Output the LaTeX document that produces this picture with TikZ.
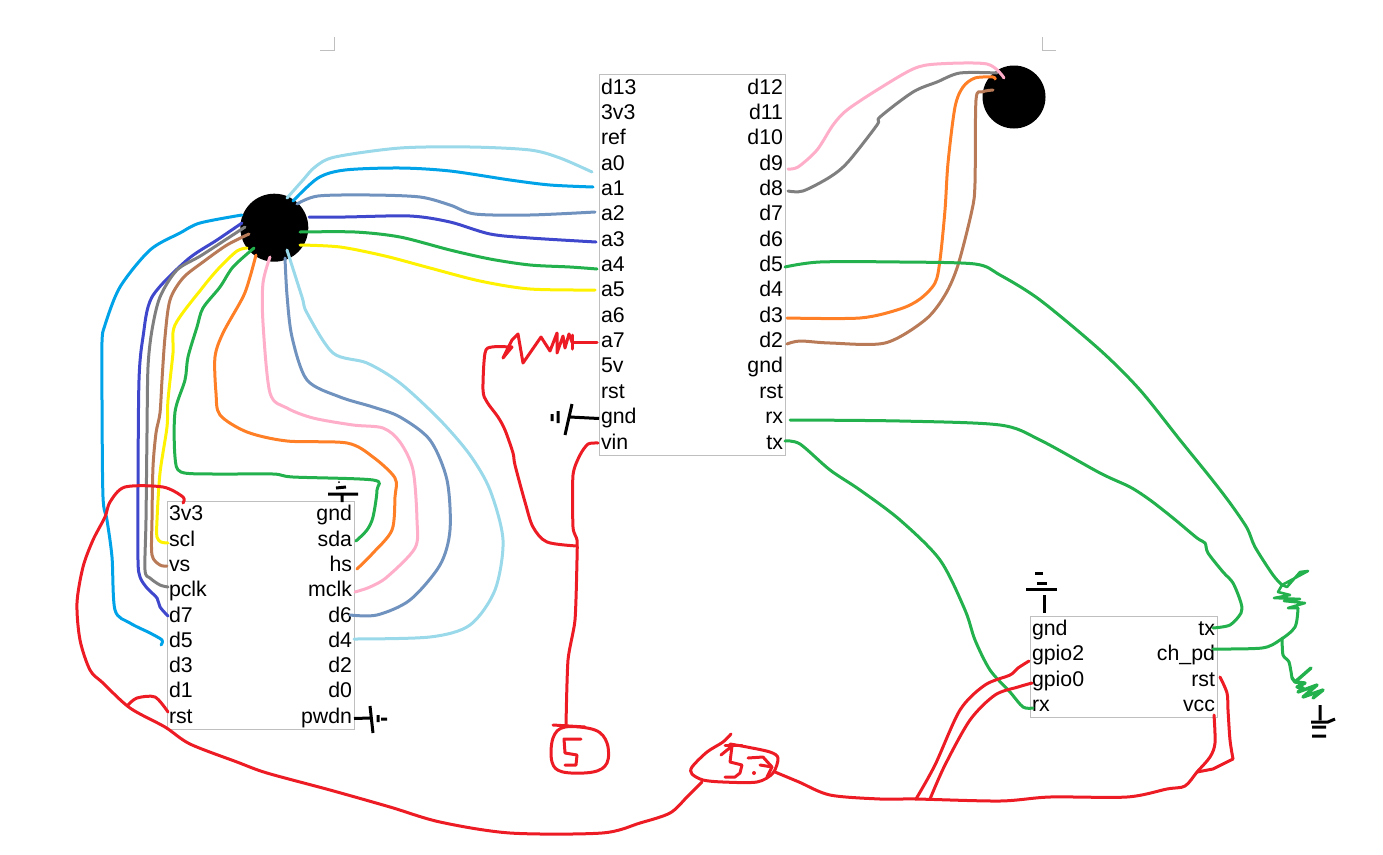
\documentclass[tikz,border=0pt]{standalone}
\usepackage{fontspec}
\setmainfont{Liberation Sans}
\definecolor{wcyan}{HTML}{00A2E8}
\definecolor{wsky}{HTML}{99D9EA}
\definecolor{wsteel}{HTML}{7092BE}
\definecolor{windigo}{HTML}{3F48CC}
\definecolor{wgreen}{HTML}{22B14C}
\definecolor{wyellow}{HTML}{FFF200}
\definecolor{wbrown}{HTML}{B97A57}
\definecolor{wgray}{HTML}{7F7F7F}
\definecolor{worange}{HTML}{FF7F27}
\definecolor{wpink}{HTML}{FFAEC9}
\definecolor{wred}{HTML}{ED1C24}
\definecolor{edgegray}{HTML}{BFBFBF}
\tikzset{
  wire/.style={line width=3pt,line join=round,line cap=round},
  gndmark/.style={line width=3pt,black},
  boxnode/.style={draw=edgegray,line width=1pt,inner sep=0pt},
  hub/.style={circle,fill=black,inner sep=0pt},
  pinbase/.style={inner sep=0pt,outer xsep=2pt,outer ysep=0pt,text height=15pt,text depth=5pt,font=\fontsize{21.3}{24}\selectfont},
  pinl/.style={pinbase,anchor=base west},
  pinr/.style={pinbase,anchor=base east},
  crop/.style={draw=edgegray,line width=1pt}
}
\begin{document}
\begin{tikzpicture}[x=1pt,y=-1pt]
\useasboundingbox (0,0) rectangle (1383,854);
% crop marks
\draw[crop] (334,37) -- (334,50) -- (320,50);
\draw[crop] (1042,37) -- (1042,50) -- (1056,50);
% boxes
\node[boxnode,minimum width=186pt,minimum height=381pt] (boxA) at (692,264.5) {};
\node[boxnode,minimum width=187pt,minimum height=228pt] (boxL) at (260.5,615) {};
\node[boxnode,minimum width=187pt,minimum height=101pt] (boxR) at (1123.5,666.5) {};
% hubs
\node[hub,minimum size=68pt] (hubL) at (274.3,227.7) {};
\node[hub,minimum size=63pt] (hubR) at (1014,97) {};
% labels
\foreach \t/\y in {d13/94.5,3v3/119.5,ref/144.5,a0/170.5,a1/195.5,a2/220.5,a3/246.5,a4/271.5,a5/296.5,a6/322.5,a7/347.5,5v/372.5,rst/398.5,gnd/423.5,vin/449.5}
  \node[pinl] (Al\t) at (599,\y) {\t};
\foreach \t/\y in {d12/94.5,d11/119.5,d10/144.5,d9/170.5,d8/195.5,d7/220.5,d6/246.5,d5/271.5,d4/296.5,d3/322.5,d2/347.5,gnd/372.5,rst/398.5,rx/423.5,tx/449.5}
  \node[pinr] (Ar\t) at (785,\y) {\t};
\foreach \t/\y in {3v3/520.5,scl/546.5,vs/571.5,pclk/596.5,d7/622.5,d5/647.5,d3/672.5,d1/697.5,rst/723.5}
  \node[pinl] (Ll\t) at (167,\y) {\t};
\foreach \t/\y in {gnd/520.5,sda/546.5,hs/571.5,mclk/596.5,d6/622.5,d4/647.5,d2/672.5,d0/697.5,pwdn/723.5}
  \node[pinr] (Lr\t) at (354,\y) {\t};
\foreach \t/\y in {gnd/635.5,gpio2/660.5,gpio0/686.5,rx/711.5}
  \node[pinl] (Rl\t) at (1030,\y) {\t};
\foreach \t/\y in {tx/635.5,rst/686.5,vcc/711.5}
  \node[pinr] (Rr\t) at (1217,\y) {\t};
\node[pinr] (Rrchpd) at (1217,660.5) {ch\_pd};
% named wire ends
\coordinate (a0end) at (592,172);
\coordinate (a1end) at (593,187);
\coordinate (a2end) at (595,212);
\coordinate (a3end) at (596,242);
\coordinate (a4end) at (597,269);
\coordinate (a5end) at (595,290);
\coordinate (a7end) at (597,342);
\coordinate (vinend) at (598,443);
\coordinate (h1) at (287,198);
\coordinate (h2) at (293,201);
\coordinate (h3) at (297,204);
\coordinate (h4) at (309,217);
\coordinate (h5) at (300,232);
\coordinate (h6) at (300,245);
\coordinate (h7) at (242,215);
\coordinate (h8) at (242,223);
\coordinate (h9) at (245,227);
\coordinate (h10) at (249,234);
\coordinate (h11) at (247,248);
\coordinate (h12) at (254,248);
\coordinate (h13) at (256,255);
\coordinate (h14) at (270,257);
\coordinate (h15) at (285,258);
\coordinate (h16) at (287,250);
\coordinate (r1) at (1004,78);
\coordinate (r2) at (997,73);
\coordinate (r3) at (995,79);
\coordinate (r4) at (993,90);
\coordinate (d5free) at (161,645);
\coordinate (d9a) at (788,169);
\coordinate (d8a) at (788,191);
\coordinate (d3a) at (787,318);
\coordinate (d2a) at (787,344);
\coordinate (d5a) at (785,267);
\coordinate (rxa) at (790,420);
\coordinate (txa) at (785,441);
\coordinate (sdaE) at (356,541);
\coordinate (hsE) at (357,569);
\coordinate (mclkE) at (355,592);
\coordinate (d6E) at (350,615);
\coordinate (d4E) at (354,639);
\coordinate (sclE) at (168,543);
\coordinate (vsE) at (167,566);
\coordinate (pclkE) at (168,587);
\coordinate (d7E) at (168,616);
\coordinate (v3E) at (183,503);
\coordinate (rstLE) at (168,712);
\coordinate (gp2E) at (1029,661);
\coordinate (gp0E) at (1032,683);
\coordinate (rxRE) at (1033,708);
\coordinate (txRE) at (1213,628);
\coordinate (chE) at (1213,649);
\coordinate (vccE) at (1214,715);
\coordinate (rstRE) at (1220,677);
\coordinate (fiveTop) at (566,725);
\coordinate (tteL) at (702,782);
\coordinate (tteR) at (775,772);
\coordinate (jA) at (577,546);
\coordinate (jB) at (916,799);
\coordinate (jC) at (930,799);
\coordinate (jD) at (1197,772);
% wires to the centre box, left
\draw[wire,wsky] plot[smooth,tension=.5] coordinates {(h1) (303,180) (315,167) (335,157) (400,148) (470,147) (530,150) (560,158) (a0end)};
\draw[wire,wcyan] plot[smooth,tension=.5] coordinates {(h2) (318,178) (345,170) (400,168) (450,171) (510,180) (550,185) (a1end)};
\draw[wire,wsteel] plot[smooth,tension=.5] coordinates {(h3) (318,196) (370,195) (420,197) (450,205) (475,214) (530,215) (a2end)};
\draw[wire,windigo] plot[smooth,tension=.5] coordinates {(h4) (345,217) (410,216) (450,222) (490,234) (530,238) (a3end)};
\draw[wire,wgreen] plot[smooth,tension=.5] coordinates {(h5) (355,232) (400,237) (450,250) (490,259) (530,265) (570,267) (a4end)};
\draw[wire,wyellow] plot[smooth,tension=.5] coordinates {(h6) (340,247) (385,256) (430,268) (480,281) (530,289) (a5end)};
% wires to the lower left box
\draw[wire,wcyan] plot[smooth,tension=.5] coordinates {(h7) (200,223) (180,233) (150,250) (120,287) (105,325) (102,342) (102,400) (103,497) (107,520) (112,557) (115,610) (130,623) (150,633) (162,640) (d5free)};
\draw[wire,windigo] plot[smooth,tension=.5] coordinates {(h8) (217,240) (187,260) (152,297) (143,337) (139,380) (138,487) (138,560) (140,577) (147,588) (157,598) (160,607) (d7E)};
\draw[wire,wgray] plot[smooth,tension=.5] coordinates {(h9) (202,255) (177,270) (160,297) (152,330) (148,367) (147,433) (146,520) (145,570) (150,578) (160,585) (pclkE)};
\draw[wire,wbrown] plot[smooth,tension=.5] coordinates {(h10) (227,245) (203,262) (183,278) (170,300) (165,337) (162,380) (160,413) (156,433) (153,467) (152,520) (152,555) (160,565) (vsE)};
\draw[wire,wyellow] plot[smooth,tension=.5] coordinates {(h11) (237,251) (220,267) (203,287) (175,325) (173,353) (168,400) (167,427) (160,473) (157,520) (157,537) (161,542) (sclE)};
\draw[wire,wgreen] plot[smooth,tension=.5] coordinates {(h12) (233,267) (220,287) (203,308) (197,327) (188,357) (185,380) (175,412) (175,457) (181,472) (213,474) (273,474) (293,477) (373,480) (377,490) (373,517) (367,530) (sdaE)};
\draw[wire,worange] plot[smooth,tension=.5] coordinates {(h13) (250,277) (243,297) (223,333) (215,357) (216,393) (220,415) (247,432) (287,441) (347,443) (373,457) (395,478) (395,497) (392,530) (373,553) (hsE)};
\draw[wire,wpink] plot[smooth,tension=.5] coordinates {(h14) (263,283) (263,323) (270,393) (287,408) (313,418) (353,425) (383,428) (400,442) (413,470) (417,520) (415,548) (387,577) (370,587) (mclkE)};
\draw[wire,wsteel] plot[smooth,tension=.5] coordinates {(h15) (287,295) (292,337) (307,380) (340,397) (373,407) (400,417) (430,440) (447,480) (450,530) (440,565) (410,600) (377,615) (d6E)};
\draw[wire,wsky] plot[smooth,tension=.5] coordinates {(h16) (302,297) (307,313) (333,353) (367,363) (400,383) (440,420) (470,455) (490,490) (503,540) (495,590) (470,625) (430,637) (d4E)};
% top right hub wires
\draw[wire,wgray] plot[smooth,tension=.5] coordinates {(d8a) (803,191) (830,177) (848,162) (877,125) (880,117) (913,92) (937,82) (960,73) (r2)};
\draw[wire,wpink] plot[smooth,tension=.5] coordinates {(d9a) (798,167) (817,150) (833,125) (847,110) (877,90) (913,69) (937,64) (987,64) (r1)};
\draw[wire,wbrown] plot[smooth,tension=.5] coordinates {(d2a) (800,341) (830,343) (885,343) (925,320) (945,295) (958,265) (972,210) (975,183) (976,100) (982,92) (r4)};
\draw[wire,worange] plot[smooth,tension=.5] coordinates {(d3a) (860,318) (900,309) (920,299) (935,283) (940,260) (945,210) (948,163) (955,107) (963,87) (975,78) (993,77) (r3)};
% green wires on the right
\draw[wire,wgreen] plot[smooth,tension=.5] coordinates {(d5a) (820,262) (900,262) (975,264) (1000,275) (1040,300) (1100,350) (1140,390) (1180,440) (1210,477) (1230,503) (1247,528) (1255,547) (1273,575) (1282,585)};
\draw[wire,wgreen,line width=2.6pt] (1282,585) -- (1308,571) -- (1300,572) -- (1287,587) -- (1282,585) -- (1278,592) -- (1290,595) -- (1274,598) -- (1300,599) -- (1284,601) -- (1305,603) -- (1288,608) -- (1298,608);
\draw[wire,wgreen] plot[smooth,tension=.5] coordinates {(1298,608) (1295,627) (1280,640) (1262,648) (chE)};
\draw[wire,wgreen] plot[smooth,tension=.4] coordinates {(1282,638) (1283,655) (1289,662) (1292,678)};
\draw[wire,wgreen,line width=3.4pt] (1292,678) -- (1295,682) -- (1311,668) -- (1303,675) -- (1295,682) -- (1305,683) -- (1297,687) -- (1303,688) -- (1298,692) -- (1317,685) -- (1303,697) -- (1323,690) -- (1313,698);
\draw[wire,wgreen] plot[smooth,tension=.5] coordinates {(rxa) (900,421) (1000,425) (1040,440) (1100,473) (1130,487) (1150,500) (1173,518) (1197,538) (1205,543) (1208,553) (1223,572) (1233,583) (1241,603) (1241,613) (1230,625) (txRE)};
\draw[wire,wgreen] plot[smooth,tension=.5] coordinates {(txa) (800,444) (830,470) (860,490) (900,520) (940,560) (965,610) (975,640) (990,670) (1010,692) (1023,707) (rxRE)};
% red wires
\draw[wire,wred] (a7end) -- (572,342);
\draw[wire,wred] (572,335) -- (572,349);
\draw[wire,wred] (569,334) -- (572,342);
\draw[wire,wred] (569,334) -- (565,348) -- (563,336) -- (557,353) -- (557,333) -- (550,351) -- (541,337) -- (523,363) -- (518,334) -- (512,340) -- (503,358) -- (512,347);
\draw[wire,wred] plot[smooth,tension=.5] coordinates {(512,347) (492,347) (485,353) (483,390) (487,402) (498,417) (505,430) (513,453) (515,465) (525,502) (533,527) (547,542) (jA)};
\draw[wire,wred] plot[smooth,tension=.4] coordinates {(vinend) (588,444) (580,455) (573,475) (573,527) (577,540) (577,560) (575,620) (568,660) (fiveTop)};
\draw[wire,wred] (553,725) -- (585,727);
\draw[wire,wred] plot[smooth cycle,tension=.6] coordinates {(565,727) (553,738) (552,762) (563,772) (593,772) (607,763) (607,743) (595,730)};
\draw[wire,wred] (581,739) -- (564,739) -- (565,753) -- (577,755) -- (576,765) -- (565,765);
\draw[wire,wred] plot[smooth,tension=.5] coordinates {(731,734) (723,742) (707,752) (692,767) (692,774) (703,780) (723,782) (757,782) (773,773) (778,758) (770,752) (747,747) (730,744)};
\draw[wire,wred] (721,755) -- (732,746) -- (730,762) -- (742,765) -- (740,773) -- (735,777) -- (725,777);
\draw[wire,wred] (725,745) -- (742,745);
\draw[wire,wred] (748,758) -- (763,757) -- (772,767) -- (767,777);
\draw[wire,wred] (760,765) -- (772,767);
\fill[wred] (754,773) circle (2pt);
\draw[wire,wred] plot[smooth,tension=.5] coordinates {(tteL) (687,797) (670,813) (640,823) (602,833) (510,833) (440,822) (390,807) (330,790) (267,773) (237,762) (190,744) (165,727) (130,708) (103,683) (90,670) (80,640) (77,603) (83,567) (93,540) (105,517) (110,502) (125,487) (163,487) (183,497) (v3E)};
\draw[wire,wred] plot[smooth,tension=.5] coordinates {(128,705) (137,698) (155,697) (rstLE)};
\draw[wire,wred] plot[smooth,tension=.5] coordinates {(tteR) (799,782) (830,795) (880,799) (jB) (1000,801) (1050,797) (1127,797) (1167,789) (1185,786) (jD) (1210,757) (1215,743) (vccE)};
\draw[wire,wred] plot[smooth,tension=.5] coordinates {(rstRE) (1227,693) (1228,710) (1230,740) (1233,759)};
\draw[wire,wred] (1233,759) -- (1213,769) -- (jD);
\draw[wire,wred] plot[smooth,tension=.5] coordinates {(jB) (935,765) (960,710) (985,685) (1010,675) (1018,668) (gp2E)};
\draw[wire,wred] plot[smooth,tension=.5] coordinates {(jC) (945,765) (970,720) (995,695) (1018,687) (gp0E)};
% ground marks
\draw[gndmark] (328,494) -- (358,494) (342,494) -- (342,502) (336,488) -- (346,487);
\fill[black] (339,482) circle (1pt);
\draw[gndmark] (Lrpwdn.east) -- (370,718) (370,706) -- (373,733) (378,715) -- (378,722) (381,719) -- (387,719);
\draw[gndmark] (Algnd.west) -- (570,417) (572,404) -- (565,435) (558,411) -- (558,423) (552,414) -- (552,421);
\draw[gndmark] (1044,595) -- (1044,613) (1026,589) -- (1057,589) (1037,583) -- (1047,583) (1035,573) -- (1043,573);
\draw[gndmark] (1320,705) -- (1320,720) (1311,722) -- (1328,722) -- (1335,719) (1312,727) -- (1326,727) (1312,736) -- (1326,736);
\end{tikzpicture}
\end{document}
